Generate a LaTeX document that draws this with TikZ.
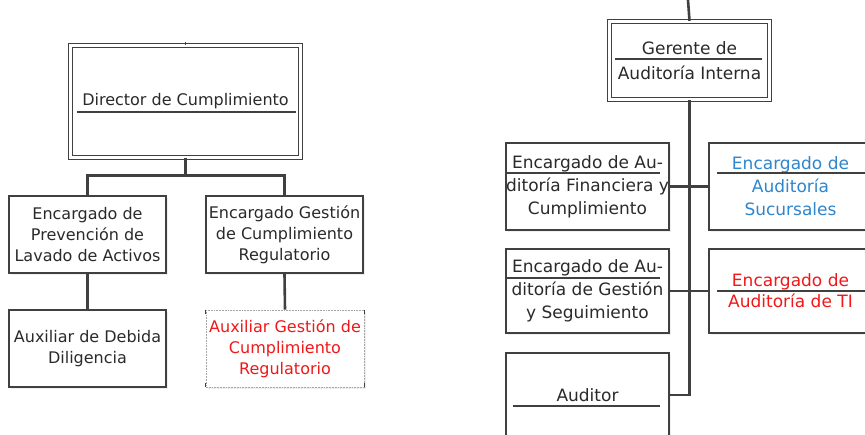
\documentclass[tikz,border=0pt]{standalone}
\usepackage{fontspec}
\setmainfont{DejaVu Sans}
\usetikzlibrary{shadows}

\definecolor{linegray}{HTML}{404040}
\definecolor{textgray}{HTML}{2A2A2A}
\definecolor{skyblue}{HTML}{2F86CC}
\definecolor{alertred}{HTML}{F01818}

\tikzset{
	unit/.style={draw=linegray, line width=1.8pt, fill=white, align=center, inner sep=0pt, text=textgray,
		drop shadow={fill=black!12, shadow xshift=2pt, shadow yshift=-2pt}},
	head/.style={unit, double, double distance=3pt, line width=1.4pt},
	link/.style={draw=linegray, line width=2.6pt},
	rule/.style={draw=linegray, line width=1.3pt},
	leftfont/.style={font=\fontsize{16}{21}\selectfont},
	rightfont/.style={font=\fontsize{17}{23}\selectfont}
}

\begin{document}
\begin{tikzpicture}[x=1pt,y=-1pt]
				\useasboundingbox (0,0) rectangle (865,434);
				
				% left chart
				\draw (185.5,101.5) node[head,leftfont,minimum width=230,minimum height=112] (dir) {Director de Cumplimiento};
				\draw (87.5,234.5) node[unit,leftfont,minimum width=157,minimum height=77] (epl) {Encargado de\\Prevención de\\Lavado de Activos};
				\draw (284.5,234.5) node[unit,leftfont,minimum width=157,minimum height=77] (egc) {Encargado Gestión\\de Cumplimiento\\Regulatorio};
				\draw (87.5,348.5) node[unit,leftfont,minimum width=157,minimum height=77] (aux1) {Auxiliar de Debida\\Diligencia};
				\draw (285,348.5) node[unit,leftfont,draw=black!35,densely dotted,line width=0.9pt,text=alertred,minimum width=158,minimum height=77] (aux2) {Auxiliar Gestión de\\Cumplimiento\\Regulatorio};
				
				\draw[rule] (77,112) -- (296,112);
				\draw[rule] (dir.north) -- ++(0,-3);
				\draw[rule] (aux2.north west) -- ++(0,4);
				\draw[rule] (aux2.north east) -- ++(0,4);
				\draw[rule] (aux2.south west) -- ++(0,-4);
				\draw[rule] (aux2.south east) -- ++(0,-4);
				
				\draw[link] (dir.south) -- ++(0,17) -| (epl.north);
				\draw[link] (dir.south) -- ++(0,17) -| (egc.north);
				\draw[link] (epl.south) -- (aux1.north);
				\draw[link] (egc.south) -- (aux2.north);
				
				% right chart
				\coordinate (top) at (688,0);
				\draw (689.5,60.5) node[head,rightfont,minimum width=160,minimum height=78,font=\fontsize{17}{25}\selectfont] (ger) {Gerente de\\Auditoría Interna};
				\draw (587.5,186.5) node[unit,rightfont,minimum width=163,minimum height=87] (eaf) {Encargado de Au-\\ditoría Financiera y\\Cumplimiento};
				\draw (790.5,186.5) node[unit,rightfont,minimum width=163,minimum height=87,text=skyblue] (eas) {Encargado de\\Auditoría\\Sucursales};
				\draw (587.5,291) node[unit,rightfont,minimum width=163,minimum height=84] (egs) {Encargado de Au-\\ditoría de Gestión\\y Seguimiento};
				\draw (790.5,291) node[unit,rightfont,minimum width=163,minimum height=84,text=alertred,font=\fontsize{17}{21}\selectfont] (eti) {Encargado de\\Auditoría de TI};
				\draw (587.5,395) node[unit,rightfont,minimum width=163,minimum height=84] (aud) {Auditor};
				
				\draw[rule] (615,59) -- (762,59);
				\draw[rule] (507,173) -- (660,173);
				\draw[rule] (717,173) -- (870,173);
				\draw[rule] (507,278) -- (660,278);
				\draw[rule] (717,291) -- (870,291);
				\draw[rule] (513,406) -- (660,406);
				
				\draw[link] (top) -- (ger.north);
				\draw[link] (ger.south) |- (aud.east);
				\draw[link] (eaf.east) -- (eas.west);
				\draw[link] (egs.east) -- (eti.west);
			\end{tikzpicture}
\end{document}
